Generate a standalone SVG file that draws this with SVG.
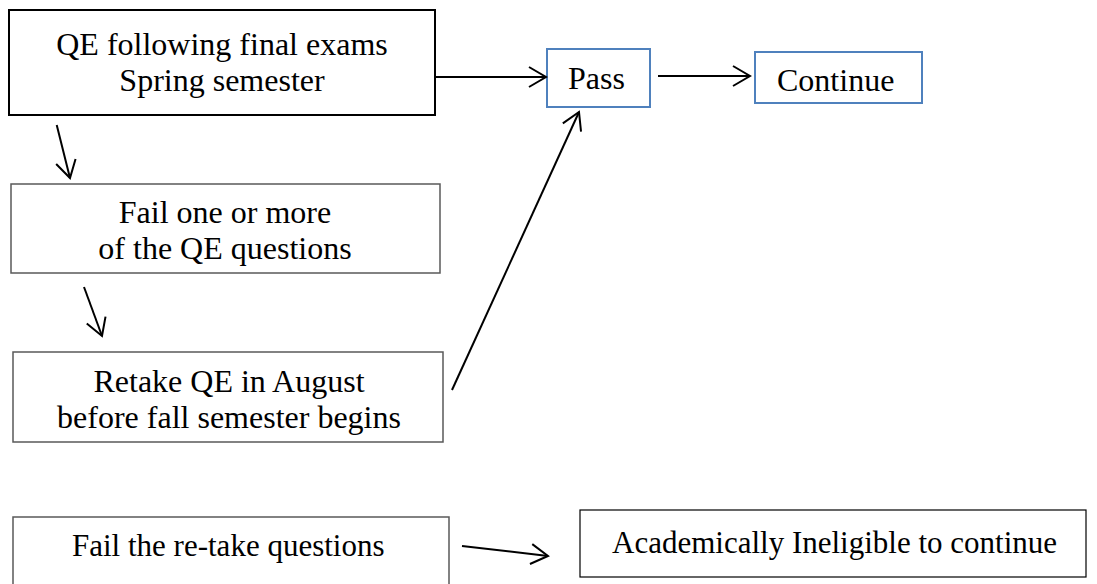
<svg xmlns="http://www.w3.org/2000/svg" width="1097" height="584" viewBox="0 0 1097 584">
<style>
  .t { font-family: "Liberation Serif", "Times New Roman", serif; font-size: 32px; fill: #000; }
  .tb { font-family: "Liberation Serif", "Times New Roman", serif; font-size: 31px; fill: #000; }
  .c { text-anchor: middle; }
  .box-black { fill: #fff; stroke: #000; stroke-width: 2; }
  .box-gray { fill: #fff; stroke: #595959; stroke-width: 1.5; }
  .box-blue { fill: #fff; stroke: #4F81BD; stroke-width: 2; }
  .box-thin { fill: #fff; stroke: #000; stroke-width: 1.2; }
  .conn { fill: none; stroke: #000; stroke-width: 2; marker-end: url(#open); }
</style>
<defs>
  <marker id="open" markerUnits="userSpaceOnUse" markerWidth="40" markerHeight="40" refX="0" refY="0" orient="auto" overflow="visible">
    <path d="M-17,-10 L0,0 L-17,10" fill="none" stroke="#000" stroke-width="2"/>
  </marker>
</defs>
<rect width="1097" height="584" fill="#fff"/>

<g id="qe-spring">
  <rect class="box-black" x="9" y="10" width="426" height="105"/>
  <text class="t c" x="222" y="55">QE following final exams</text>
  <text class="t c" x="222" y="91">Spring semester</text>
</g>

<g id="pass">
  <rect class="box-blue" x="547" y="49" width="103" height="58"/>
  <text class="t" x="568" y="89">Pass</text>
</g>

<g id="continue">
  <rect class="box-blue" x="755" y="52" width="167" height="51"/>
  <text class="t" x="777" y="91">Continue</text>
</g>

<g id="fail-one">
  <rect class="box-gray" x="11" y="184" width="429" height="89"/>
  <text class="t c" x="225" y="223">Fail one or more</text>
  <text class="t c" x="225" y="259">of the QE questions</text>
</g>

<g id="retake">
  <rect class="box-gray" x="13" y="352" width="430" height="90"/>
  <text class="t c" x="229" y="392">Retake QE in August</text>
  <text class="t c" x="229" y="428">before fall semester begins</text>
</g>

<g id="fail-retake">
  <rect class="box-gray" x="13" y="517" width="436" height="80"/>
  <text class="tb" x="72" y="556">Fail the re-take questions</text>
</g>

<g id="ineligible">
  <rect class="box-thin" x="580" y="510" width="506" height="67"/>
  <text class="tb" x="612" y="553">Academically Ineligible to continue</text>
</g>

<g id="connectors">
  <line class="conn" x1="435" y1="77" x2="546" y2="77"/>
  <line class="conn" x1="658" y1="76" x2="750" y2="76"/>
  <line class="conn" x1="56.7" y1="125" x2="70" y2="178"/>
  <line class="conn" x1="84" y1="287" x2="102" y2="336"/>
  <line class="conn" x1="452" y1="390" x2="579" y2="112"/>
  <line class="conn" x1="462" y1="546" x2="548" y2="556"/>
</g>
</svg>
